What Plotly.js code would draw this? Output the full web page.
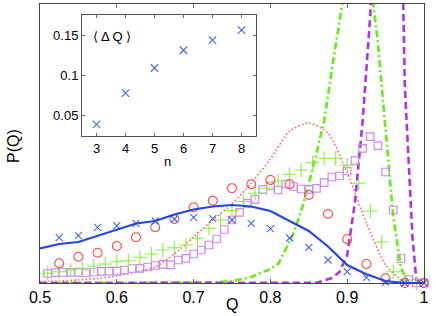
<!DOCTYPE html>
<html>
<head>
<meta charset="utf-8">
<script src="https://cdn.plot.ly/plotly-3.0.1.min.js"></script>
<style>html,body{margin:0;padding:0;background:#fff;}#chart{width:436px;height:316px;}</style>
</head>
<body>
<div id="chart"></div>
<script>
// ---- main panel data ----
var qCoarse = [0.525,0.55,0.575,0.6,0.625,0.65,0.675,0.7,0.725,0.75,0.775,0.8,0.825,0.85,0.875,0.9,0.925,0.95,0.975,1.0];
var crossN3 = [4.53,4.73,5.57,5.73,5.97,6.2,6.4,6.57,6.43,6.3,5.97,5.43,4.5,3.57,2.3,1.13,0.57,0.07,0.0,0.0];
var circleN4 = [1.97,2.63,3.03,3.7,4.57,5.57,6.4,7.57,8.23,9.47,9.87,10.3,9.87,8.8,6.9,4.37,1.9,0.47,0.0,0.0];

var qLine = [0.5,0.525,0.55,0.575,0.6,0.625,0.65,0.675,0.7,0.725,0.75,0.775,0.8,0.825,0.85,0.875,0.9,0.925,0.95,0.975,1.0];
var solidN3 = [3.45,3.9,4.1,4.7,5.3,5.95,6.2,6.85,7.35,7.65,7.8,7.65,7.2,6.2,5.2,3.65,1.8,0.87,0.2,0.0,0.0];
var dottedN4 = [0.15,0.2,0.3,0.45,0.7,1.1,1.6,2.9,4.6,6.3,7.9,10.0,12.4,15.2,16.0,15.0,11.0,6.0,1.8,0.1,0.0];

var qPlus = [0.51,0.525,0.54,0.555,0.57,0.585,0.6,0.615,0.63,0.645,0.66,0.675,0.69,0.705,0.72,0.735,0.75,0.765,0.78,0.795,0.81,0.825,0.84,0.855,0.87,0.885,0.9,0.915,0.93,0.945,0.96,0.975,0.99];
var plusN5 = [0.97,1.13,1.3,1.47,1.7,1.9,2.13,2.23,2.57,2.9,3.3,3.53,3.8,4.47,5.47,6.3,7.25,8.15,8.97,9.5,10.2,10.87,11.3,12.03,12.47,12.47,11.8,9.97,7.2,4.1,1.13,0.3,0.0];

var qSquare = [0.51,0.52,0.53,0.54,0.55,0.56,0.57,0.58,0.59,0.60,0.61,0.62,0.63,0.64,0.65,0.66,0.67,0.68,0.69,0.70,0.71,0.72,0.73,0.74,0.75,0.76,0.77,0.78,0.79,0.80,0.81,0.82,0.83,0.84,0.85,0.86,0.87,0.88,0.89,0.90,0.91,0.92,0.93,0.94,0.95,0.96,0.97,0.98,0.99,1.00];
var squareN6 = [0.95,1.03,1.05,1.07,1.07,1.0,1.1,1.17,1.18,1.18,
                1.3,1.45,1.47,1.6,1.75,1.87,1.82,2.3,2.47,2.9,
                3.3,3.8,4.4,5.35,6.3,7.07,7.97,8.37,9.37,9.7,
                9.3,9.9,9.65,9.4,9.37,9.47,10.03,10.6,10.7,11.2,
                12.23,13.47,14.63,13.73,11.1,7.3,2.45,0.35,0.0,0.0];

var qDashDot = [0.5,0.6,0.7,0.725,0.75,0.775,0.8,0.81,0.82,0.83,0.84,0.85,0.86,0.87,0.88,0.89,0.9,0.91,0.92,0.93,0.94,0.95,0.96,0.97,0.98,0.99,1.0];
var dashDotN5 = [0,0,0,0.05,0.2,0.6,1.4,1.9,3.4,4.95,7.15,9.9,13.0,16.2,21.3,25.9,30.8,36.0,36.8,30.3,24.0,15.3,6.6,1.5,0,0,0];

var qDash = [0.5,0.8,0.85,0.86,0.87,0.88,0.89,0.9,0.91,0.92,0.93,0.94,0.95,0.96,0.97,0.975,0.98,0.985,0.99,1.0];
var dashN6 = [0,0,0,0.02,0.25,0.5,1.1,2.8,8.0,16.1,26.7,50,68,60,39.7,19.8,12.0,4.6,0.3,0];

// ---- inset data ----
var insetN = [3,4,5,6,7,8];
var insetDQ = [0.0393,0.0782,0.1093,0.1313,0.1438,0.1562];

var xTickVals = [0.5,0.6,0.7,0.8,0.9,1.0];
var xTickText = ['0.5','0.6','0.7','0.8','0.9','1'];
var insetYTickVals = [0.05,0.1,0.15];
var insetYTickText = ['0.05','0.1','0.15'];

var BLUE = '#2244ee', RED = '#ff4444', GREEN = '#66ee11', PURPLE = '#aa33ee', LILAC = '#cc88ee';
var FONT = 'Liberation Sans, Arial, Helvetica, sans-serif';

var traces = [
  {x: qLine, y: dottedN4, mode: 'lines', line: {color: '#ff6666', width: 1.6, dash: '1.6px,2.2px', shape: 'spline', smoothing: 0.6}, hoverinfo: 'skip'},
  {x: qDashDot, y: dashDotN5, mode: 'lines', line: {color: GREEN, width: 2.6, dash: '7px,3px,2px,3px'}},
  {x: qDash, y: dashN6, mode: 'lines', line: {color: PURPLE, width: 2.6, dash: '7px,4px'}},
  {x: qSquare, y: squareN6, mode: 'markers', cliponaxis: false, marker: {symbol: 'square-open', size: 7.5, color: LILAC, line: {width: 1.2, color: LILAC}}},
  {x: qPlus, y: plusN5, mode: 'markers', cliponaxis: false, marker: {symbol: 'cross-thin', size: 10, color: '#88ee44', line: {width: 1.1, color: '#88ee44'}}},
  {x: qCoarse, y: circleN4, mode: 'markers', cliponaxis: false, marker: {symbol: 'circle-open', size: 9, color: RED, line: {width: 1.1, color: RED}}},
  {x: qCoarse, y: crossN3, mode: 'markers', cliponaxis: false, marker: {symbol: 'x-thin', size: 7, color: '#4466ee', line: {width: 1.1, color: '#4466ee'}}},
  {x: qLine, y: solidN3, mode: 'lines', line: {color: BLUE, width: 2.2}},
  {x: insetN, y: insetDQ, xaxis: 'x2', yaxis: 'y2', mode: 'markers', marker: {symbol: 'x-thin', size: 7.5, color: '#4466ee', line: {width: 1.1, color: '#4466ee'}}}
];

var layout = {
  width: 436, height: 316,
  margin: {l: 40, r: 12, t: 4, b: 33},
  paper_bgcolor: '#fff', plot_bgcolor: '#fff',
  showlegend: false,
  font: {family: FONT, color: '#000', size: 16},
  xaxis: {
    range: [0.5, 1.0], tickvals: xTickVals, ticktext: xTickText,
    ticks: 'inside', ticklen: 4, tickwidth: 1, tickcolor: '#666',
    showline: true, linecolor: '#444', linewidth: 1, mirror: 'ticks',
    showgrid: false, zeroline: false, tickfont: {size: 16, family: FONT}
  },
  yaxis: {
    range: [0, 27.9], showticklabels: false, ticks: '',
    showline: true, linecolor: '#444', linewidth: 1, mirror: true,
    showgrid: false, zeroline: false
  },
  xaxis2: {
    domain: [0.1094, 0.5625], anchor: 'y2', range: [2.5, 8.5], tickvals: insetN,
    ticks: 'inside', ticklen: 3, tickcolor: '#666',
    showline: true, linecolor: '#555', mirror: 'ticks',
    showgrid: false, zeroline: false, tickfont: {size: 13, family: FONT}
  },
  yaxis2: {
    domain: [0.5269, 0.9606], anchor: 'x2', range: [0.025, 0.175],
    tickvals: insetYTickVals, ticktext: insetYTickText,
    ticks: 'inside', ticklen: 3, tickcolor: '#666',
    showline: true, linecolor: '#555', mirror: 'ticks',
    showgrid: false, zeroline: false, tickfont: {size: 13, family: FONT}
  },
  annotations: [
    {text: 'P(Q)', xref: 'paper', yref: 'paper', x: -0.0703, y: 0.491, textangle: -90, showarrow: false, xanchor: 'center', yanchor: 'middle', font: {size: 16, family: FONT}},
    {text: 'Q', xref: 'paper', yref: 'paper', x: 0.5, y: -0.0753, showarrow: false, xanchor: 'center', yanchor: 'middle', font: {size: 16, family: FONT}},
    {text: '\u27E8 \u0394 Q \u27E9', xref: 'paper', yref: 'paper', x: 0.1875, y: 0.885, showarrow: false, xanchor: 'center', yanchor: 'middle', font: {size: 13, family: FONT}},
    {text: 'n', xref: 'paper', yref: 'paper', x: 0.333, y: 0.437, showarrow: false, xanchor: 'center', yanchor: 'middle', font: {size: 13, family: FONT}}
  ]
};

Plotly.newPlot('chart', traces, layout, {staticPlot: true, displayModeBar: false});
</script>
</body>
</html>
